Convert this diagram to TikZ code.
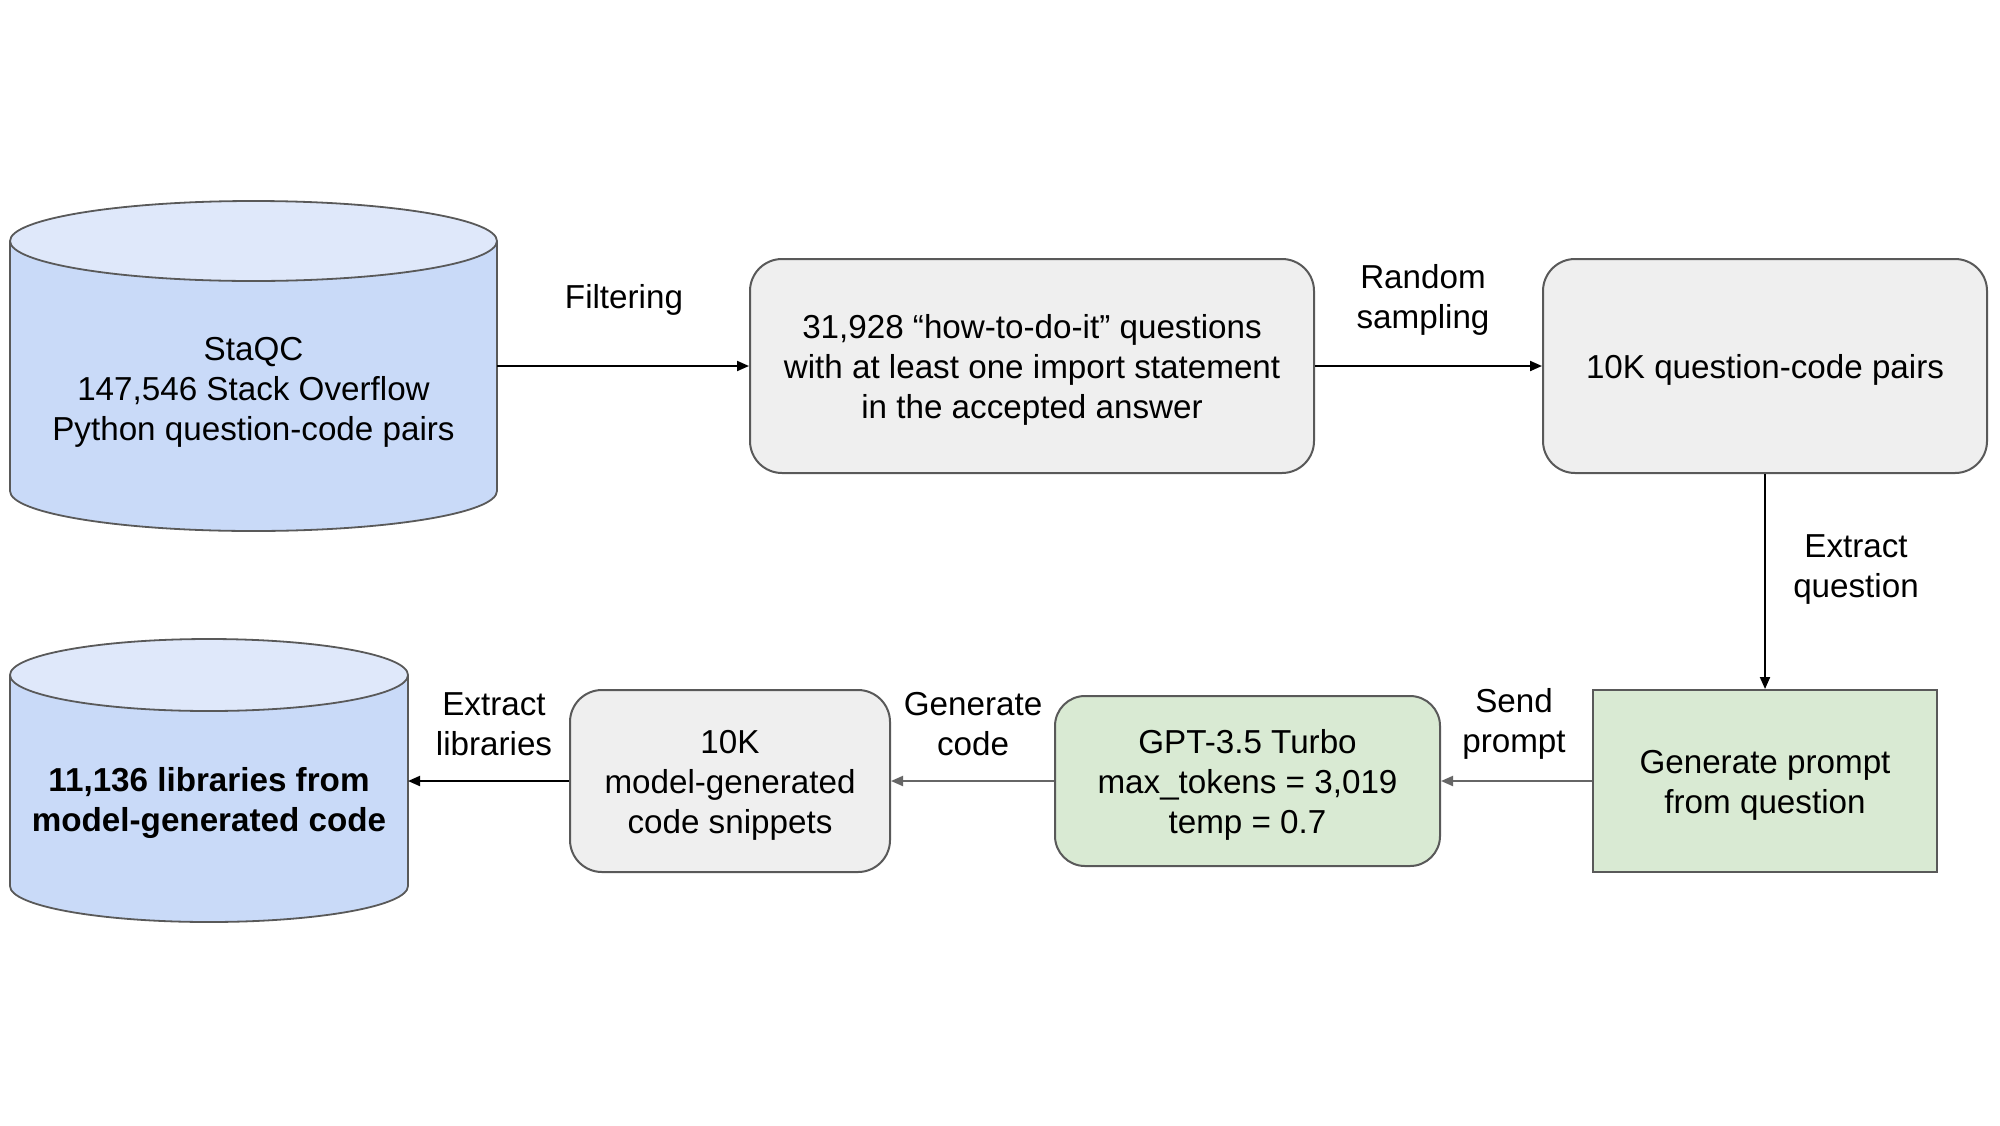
\documentclass[tikz,border=0pt]{standalone}
\usepackage{fontspec}
\setmainfont{Liberation Sans}
\usetikzlibrary{arrows.meta}
\definecolor{cylblue}{HTML}{C9DAF8}
\definecolor{cyltop}{HTML}{DFE8FA}
\definecolor{bordergray}{HTML}{595959}
\definecolor{boxgray}{HTML}{EFEFEF}
\definecolor{boxgreen}{HTML}{D9EAD3}
\definecolor{arrgray}{HTML}{666666}
\tikzset{
  txt/.style={align=center, inner sep=0pt, yshift=-2pt, font=\fontsize{16.6}{20}\selectfont},
  rbox/.style={draw=bordergray, line width=1pt, fill=boxgray, rounded corners=16pt, inner sep=0pt},
  gbox/.style={draw=bordergray, line width=1pt, fill=boxgreen, inner sep=0pt},
  arr/.style={line width=1pt, -{Triangle[length=6pt,width=5pt]}},
  garr/.style={arr, draw=arrgray, color=arrgray},
  cylline/.style={draw=bordergray, line width=0.9pt}
}
\begin{document}
\begin{tikzpicture}[x=0.5pt,y=-0.5pt]
\useasboundingbox (0,0) rectangle (2000,1125);
\fill[white] (0,0) rectangle (2000,1125);

% Cylinder 1
\filldraw[fill=cylblue, cylline] (253.5,491) ellipse [x radius=121.75pt, y radius=20pt];
\fill[cylblue] (10,241) rectangle (497,491);
\draw[cylline] (10,241) -- (10,491) (497,241) -- (497,491);
\filldraw[fill=cyltop, cylline] (253.5,241) ellipse [x radius=121.75pt, y radius=20pt];
\node[txt] (staqc) at (253.5,388) {StaQC\\147,546 Stack Overflow\\Python question-code pairs};
\coordinate (c1r) at (497,366);

% Cylinder 2
\filldraw[fill=cylblue, cylline] (209,886) ellipse [x radius=99.5pt, y radius=18pt];
\fill[cylblue] (10,675) rectangle (408,886);
\draw[cylline] (10,675) -- (10,886) (408,675) -- (408,886);
\filldraw[fill=cyltop, cylline] (209,675) ellipse [x radius=99.5pt, y radius=18pt];
\node[txt, font=\fontsize{16.6}{20}\selectfont\bfseries] (libs) at (209,799) {11,136 libraries from\\model-generated code};
\coordinate (c2r) at (408,781);

% Boxes
\node[rbox, minimum width=282pt, minimum height=107pt] (howto) at (1032,366) {};
\node[txt] (howtot) at (howto.center)
  {31,928 “how-to-do-it” questions\\with at least one import statement\\in the accepted answer};
\node[rbox, minimum width=222pt, minimum height=107pt] (pairs) at (1765,366) {};
\node[txt] (pairst) at (pairs.center) {10K question-code pairs};
\node[gbox, minimum width=172pt, minimum height=91pt] (prompt) at (1765,781) {};
\node[txt] (promptt) at (prompt.center) {Generate prompt\\from question};
\node[rbox, fill=boxgreen, rounded corners=15pt, minimum width=192.5pt, minimum height=85pt] (gpt) at (1247.5,781) {};
\node[txt] (gptt) at (gpt.center) {GPT-3.5 Turbo\\max\_tokens = 3,019\\temp = 0.7};
\node[rbox, minimum width=160pt, minimum height=91pt] (snip) at (730,781) {};
\node[txt] (snipt) at (snip.center) {10K\\model-generated\\code snippets};

% Connectors
\draw[arr] (c1r) -- (howto.west);
\draw[arr] (howto.east) -- (pairs.west);
\draw[arr] (pairs.south) -- (prompt.north);
\draw[garr] (prompt.west) -- (gpt.east);
\draw[garr] (gpt.west) -- (snip.east);
\draw[arr] (snip.west) -- (c2r);

% Labels
\node[txt] (lfilter) at (624,296) {Filtering};
\node[txt] (lrandom) at (1423,296) {Random\\sampling};
\node[txt] (lextq) at (1856,566) {Extract\\question};
\node[txt] (lsend) at (1514,720) {Send\\prompt};
\node[txt] (lgen) at (973,720) {Generate\\code};
\node[txt] (lextl) at (494,720) {Extract\\libraries};
\end{tikzpicture}
\end{document}
